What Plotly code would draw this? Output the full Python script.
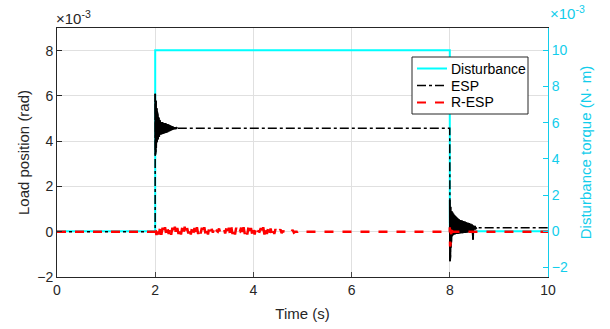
import plotly.graph_objects as go

# ---- data (values in units of 1e-3) ----
dist_t = [0, 2.0, 2.0, 8.0, 8.0, 10.0]
dist_v = [0, 0, 10, 10, 0, 0]

esp_t = [0, 1.999,
         2.000, 2.004, 2.008, 2.012, 2.016, 2.020, 2.024, 2.028, 2.032, 2.036, 2.040,
         2.046, 2.052, 2.058, 2.064, 2.070, 2.076, 2.082, 2.088, 2.094, 2.100,
         2.110, 2.120, 2.130, 2.140, 2.150, 2.160, 2.170, 2.180, 2.190, 2.200,
         2.210, 2.220, 2.230, 2.240, 2.250, 2.260, 2.270, 2.280, 2.290, 2.300,
         2.310, 2.320, 2.330, 2.340, 2.350, 2.360, 2.370, 2.380, 2.390, 2.400,
         2.410, 2.420, 2.430, 2.440, 2.450,
         7.999,
         8.000, 8.004, 8.008, 8.012, 8.016, 8.020, 8.026, 8.032, 8.040, 8.048,
         8.056, 8.064, 8.072, 8.080, 8.090, 8.100, 8.110, 8.120, 8.130, 8.140,
         8.150, 8.160, 8.170, 8.180, 8.190, 8.200, 8.215, 8.230, 8.245, 8.260,
         8.275, 8.290, 8.305, 8.320, 8.335, 8.350, 8.365, 8.380, 8.395, 8.410,
         8.425, 8.440, 8.455, 8.468, 8.474, 8.480, 8.495, 8.510, 8.530, 8.550,
         10.0]
esp_v = [0, 0,
         6.10, 3.40, 5.95, 3.55, 5.80, 3.70, 5.60, 3.85, 5.45, 3.95, 5.30,
         4.00, 5.15, 4.08, 5.05, 4.15, 4.98, 4.20, 4.92, 4.25, 4.88,
         4.28, 4.85, 4.30, 4.85, 4.32, 4.82, 4.33, 4.80, 4.35, 4.80,
         4.36, 4.78, 4.38, 4.76, 4.40, 4.75, 4.42, 4.72, 4.44, 4.70,
         4.46, 4.68, 4.48, 4.66, 4.50, 4.64, 4.52, 4.62, 4.53, 4.61,
         4.54, 4.60, 4.55, 4.59, 4.57,
         4.57,
         1.40, -1.30, 1.25, -1.10, 1.10, -0.70, 1.00, -0.40, 0.90, -0.20,
         0.85, -0.15, 0.80, -0.12, 0.75, -0.12, 0.70, -0.10, 0.66, -0.10,
         0.62, -0.10, 0.58, -0.08, 0.55, -0.08, 0.52, -0.06, 0.50, -0.06,
         0.47, -0.05, 0.45, -0.05, 0.42, -0.04, 0.40, -0.02, 0.38, 0.00,
         0.35, 0.02, 0.32, 0.05, -0.35, 0.28, 0.10, 0.25, 0.14, 0.18,
         0.18]

resp_t = [0, 1.999,
          2.000, 2.025, 2.050, 2.075, 2.100, 2.125, 2.150, 2.175, 2.200, 2.225,
          2.250, 2.275, 2.300, 2.325, 2.350, 2.375, 2.400, 2.425, 2.450, 2.475,
          2.500, 2.525, 2.550, 2.575, 2.600, 2.625, 2.650, 2.675, 2.700, 2.725,
          2.750, 2.775, 2.800, 2.825, 2.850, 2.875, 2.900, 2.925, 2.950, 2.975,
          3.000, 3.025, 3.050, 3.075, 3.100, 3.125, 3.150, 3.175, 3.200, 3.225,
          3.250, 3.275, 3.300, 3.325, 3.350, 3.375, 3.400, 3.425, 3.450, 3.475,
          3.500, 3.525, 3.550, 3.575, 3.600, 3.625, 3.650, 3.675, 3.700, 3.725,
          3.750, 3.775, 3.800, 3.825, 3.850, 3.875, 3.900, 3.925, 3.950, 3.975,
          4.000, 4.025, 4.050, 4.075, 4.100, 4.125, 4.150, 4.175, 4.200, 4.225,
          4.250, 4.275, 4.300, 4.325, 4.350, 4.375, 4.400, 4.425, 4.450, 4.475,
          4.500, 4.525, 4.550, 4.575, 4.600, 4.625, 4.650, 4.675, 4.700, 4.725,
          4.750, 4.775, 4.800, 4.825, 4.850, 4.875, 4.900, 4.925, 4.950, 4.975,
          5.000,
          7.999,
          8.000, 8.006, 8.012, 8.018, 8.026, 8.034, 8.044, 8.056,
          10.0]
resp_v = [0, 0,
          0.25, -0.15, 0.22, -0.12, 0.20, -0.14, 0.18, -0.10, 0.20, -0.12,
          0.16, -0.10, 0.20, -0.14, 0.18, -0.08, 0.22, -0.12, 0.16, -0.10,
          0.20, -0.12, 0.18, -0.10, 0.22, -0.14, 0.16, -0.08, 0.20, -0.12,
          0.18, -0.10, 0.16, -0.12, 0.20, -0.10, 0.14, -0.08, 0.18, -0.12,
          0.20, -0.10, 0.16, -0.12, 0.18, -0.06, 0.12, -0.04, 0.16, -0.06,
          0.04, 0.00, 0.14, -0.06, 0.02, 0.00, 0.12, -0.08, 0.16, -0.10,
          0.18, -0.12, 0.20, -0.10, 0.16, -0.12, 0.18, -0.08, 0.02, 0.00,
          0.18, -0.12, 0.20, -0.10, 0.16, -0.12, 0.20, -0.08, 0.16, -0.10,
          0.18, -0.12, 0.14, -0.10, 0.02, 0.00, 0.16, -0.10, 0.20, -0.12,
          0.18, -0.10, 0.16, -0.12, 0.14, -0.08, 0.16, -0.10, 0.12, -0.06,
          0.04, 0.00, 0.10, -0.06, 0.02, 0.00, 0.00, 0.06, -0.02, 0.00,
          0.00, 0.00, 0.08, -0.04, 0.00, 0.00, 0.00, 0.04, 0.00, 0.00,
          0.0,
          0.0,
          0.20, -0.65, 0.15, -0.50, 0.10, -0.25, 0.05, 0.0,
          0.0]

x_ticks = [0, 2, 4, 6, 8, 10]
left_ticks = [-2, 0, 2, 4, 6, 8]
right_ticks = [-2, 0, 2, 4, 6, 8, 10]

legend_names = ["Disturbance", "ESP", "R-ESP"]
legend_colors = ["#00FFFF", "black", "#FF0000"]
legend_dashes = ["solid", "dashdot", "dash"]

CYAN_AX = "#12CDEB"
FONT = "Liberation Sans, Arial, sans-serif"

W, H = 610, 329
ML, MR, MT, MB = 57, 62, 28, 52
PW, PH = W - ML - MR, H - MT - MB


def px(x):
    return (x - ML) / PW


def py(y):
    return 1 - (y - MT) / PH


fig = go.Figure()

fig.add_trace(go.Scatter(x=dist_t, y=dist_v, mode="lines", name="Disturbance",
                         line=dict(color="#00FFFF", width=2), yaxis="y",
                         showlegend=False))

i1a, i1b = 2, esp_t.index(2.450) + 1
i2a, i2b = esp_t.index(8.000), esp_t.index(8.550) + 1
fig.add_trace(go.Scatter(x=esp_t, y=esp_v, mode="lines", name="ESP",
                         line=dict(color="black", width=1.5, dash="dashdot"),
                         yaxis="y2", showlegend=False))
fig.add_trace(go.Scatter(x=esp_t[i1a:i1b], y=esp_v[i1a:i1b], mode="lines",
                         showlegend=False, line=dict(color="black", width=1.8),
                         yaxis="y2"))
fig.add_trace(go.Scatter(x=esp_t[i2a:i2b], y=esp_v[i2a:i2b], mode="lines",
                         showlegend=False, line=dict(color="black", width=1.8),
                         yaxis="y2"))
fig.add_trace(go.Scatter(x=resp_t, y=resp_v, mode="lines", name="R-ESP",
                         line=dict(color="#FF0000", width=2.5, dash="dash"),
                         yaxis="y2", showlegend=False))

# legend drawn as box + samples + text
shapes = [dict(type="rect", xref="paper", yref="paper",
               x0=px(412), x1=px(528), y0=py(114), y1=py(57),
               line=dict(color="#262626", width=1), fillcolor="white",
               layer="above")]
annotations = []
row_y = [68.5, 85.5, 102.5]
for name, col, dash, ry in zip(legend_names, legend_colors, legend_dashes, row_y):
    shapes.append(dict(type="line", xref="paper", yref="paper",
                       x0=px(417), x1=px(447), y0=py(ry), y1=py(ry),
                       line=dict(color=col, width=2 if col != "black" else 1.5,
                                 dash=dash), layer="above"))
    annotations.append(dict(text=name, xref="paper", yref="paper",
                            x=px(449), y=py(ry), xanchor="left",
                            yanchor="middle", showarrow=False,
                            font=dict(size=14, color="#000000")))

annotations += [
    dict(text="×10<sup>-3</sup>", xref="paper", yref="paper", x=0, y=1,
         xanchor="left", yanchor="bottom", showarrow=False,
         font=dict(size=15, color="#262626"), yshift=-1, xshift=-3),
    dict(text="×10<sup>-3</sup>", xref="paper", yref="paper", x=1, y=1,
         xanchor="left", yanchor="bottom", showarrow=False,
         font=dict(size=15, color=CYAN_AX), xshift=0, yshift=4),
]

fig.update_layout(
    width=W, height=H,
    margin=dict(l=ML, r=MR, t=MT, b=MB, autoexpand=False),
    paper_bgcolor="white", plot_bgcolor="white",
    font=dict(family=FONT, size=14, color="#262626"),
    showlegend=False,
    xaxis=dict(range=[0, 10], tickvals=x_ticks, ticks="inside", ticklen=5,
               showgrid=True, gridcolor="#E0E0E0", zeroline=False,
               showline=True, linecolor="#262626", linewidth=1, mirror=True,
               automargin=False,
               title=dict(text="Time (s)", font=dict(size=15), standoff=11)),
    yaxis=dict(range=[-2.52, 11.23], tickvals=right_ticks, side="right",
               ticks="inside", ticklen=5, tickcolor=CYAN_AX,
               showgrid=False, zeroline=False, automargin=False,
               showline=True, linecolor=CYAN_AX, linewidth=1,
               tickfont=dict(color=CYAN_AX, size=14),
               title=dict(text="Disturbance torque (N· m)",
                          font=dict(color=CYAN_AX, size=15), standoff=13)),
    yaxis2=dict(range=[-2, 9], tickvals=left_ticks, side="left",
                overlaying="y", ticks="inside", ticklen=5, tickcolor="#262626",
                showgrid=True, gridcolor="#E0E0E0", zeroline=False,
                automargin=False,
                showline=True, linecolor="#262626", linewidth=1,
                tickfont=dict(size=14),
                title=dict(text="Load position (rad)", font=dict(size=15),
                           standoff=3)),
    shapes=shapes,
    annotations=annotations,
)

fig.write_html("out.html",
               config={"displayModeBar": False},
               post_script="document.body.style.margin='0';"
                           "document.body.style.overflow='hidden';")
